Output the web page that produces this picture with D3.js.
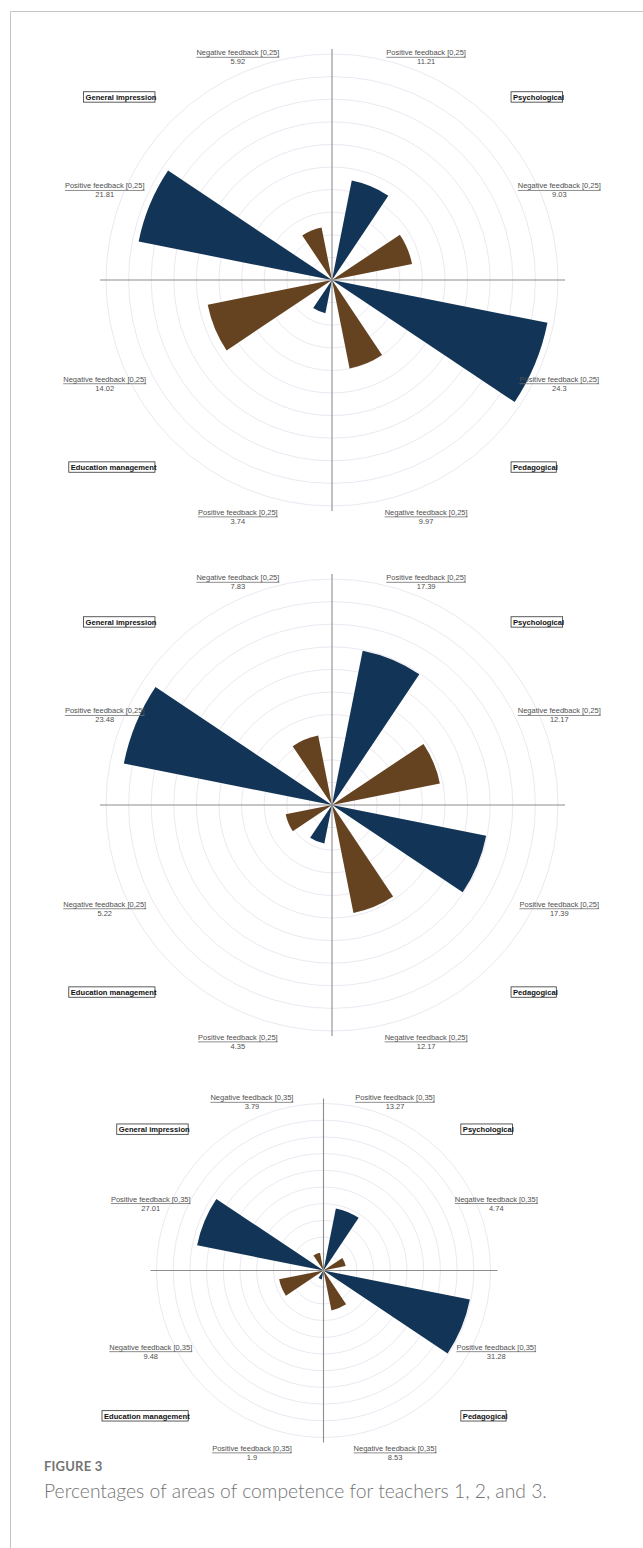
<!DOCTYPE html>
<html>
<head>
<meta charset="utf-8">
<script src="https://cdn.jsdelivr.net/npm/d3@7/dist/d3.min.js"></script>
<style>
  html, body { margin: 0; padding: 0; background: #fff; }
  svg { display: block; }
</style>
</head>
<body>
<svg id="fig" width="643" height="1548"></svg>
<script>
// ---------------- DATA ----------------
const categories = ["Psychological", "Pedagogical", "Education management", "General impression"];
const feedbackTypes = ["Positive feedback", "Negative feedback"];
const teacherScaleMax = [25, 25, 35];
const teacher1Positive = [11.21, 24.3, 3.74, 21.81];
const teacher1Negative = [9.03, 9.97, 14.02, 5.92];
const teacher2Positive = [17.39, 17.39, 4.35, 23.48];
const teacher2Negative = [12.17, 12.17, 5.22, 7.83];
const teacher3Positive = [13.27, 31.28, 1.9, 27.01];
const teacher3Negative = [4.74, 8.53, 9.48, 3.79];
const captionTitle = "FIGURE 3";
const captionText = "Percentages of areas of competence for teachers 1, 2, and 3.";

// ---------------- LAYOUT ----------------
const panels = [
  { pos: teacher1Positive, neg: teacher1Negative, max: teacherScaleMax[0], cx: 332, cy: 280, R: 226 },
  { pos: teacher2Positive, neg: teacher2Negative, max: teacherScaleMax[1], cx: 332, cy: 805, R: 226 },
  { pos: teacher3Positive, neg: teacher3Negative, max: teacherScaleMax[2], cx: 323.5, cy: 1270.5, R: 167 }
];
const colors = { "Positive feedback": "#123456", "Negative feedback": "#654321" };
const labelFont = "'Liberation Sans', Arial, sans-serif";

const svg = d3.select("#fig");

// frame
svg.append("line").attr("x1", 10.5).attr("x2", 643).attr("y1", 11.5).attr("y2", 11.5)
  .attr("stroke", "#c4c4c4").attr("stroke-width", 1);
svg.append("line").attr("x1", 10.5).attr("x2", 10.5).attr("y1", 11.5).attr("y2", 1548)
  .attr("stroke", "#c4c4c4").attr("stroke-width", 1);

const slotAngle = 2 * Math.PI / 8;

panels.forEach(p => {
  const g = svg.append("g").attr("transform", `translate(${p.cx},${p.cy})`);
  const r = d3.scaleLinear().domain([0, p.max]).range([0, p.R]);
  const rings = d3.range(1, 11).map(i => p.max * i / 10);

  g.selectAll("circle.ring").data(rings).join("circle")
    .attr("class", "ring").attr("r", d => r(d))
    .attr("fill", "none").attr("stroke", "#e6e2ee").attr("stroke-width", 0.8);

  const slots = [];
  categories.forEach((c, ci) => {
    slots.push({ cat: c, type: feedbackTypes[0], value: p.pos[ci], slot: ci * 2 });
    slots.push({ cat: c, type: feedbackTypes[1], value: p.neg[ci], slot: ci * 2 + 1 });
  });

  const arc = d3.arc().innerRadius(0)
    .outerRadius(d => r(d.value))
    .startAngle(d => d.slot * slotAngle + slotAngle / 4)
    .endAngle(d => d.slot * slotAngle + slotAngle * 3 / 4);

  g.selectAll("path.wedge").data(slots).join("path")
    .attr("class", "wedge").attr("d", arc)
    .attr("fill", d => colors[d.type]);

  g.append("line").attr("x1", -(p.R + 6)).attr("x2", p.R + 7).attr("y1", 0).attr("y2", 0)
    .attr("stroke", "#8c8c8c").attr("stroke-width", 1.1);
  g.append("line").attr("y1", -(p.R + 5)).attr("y2", p.R + 5).attr("x1", 0).attr("x2", 0)
    .attr("stroke", "#8c8c8c").attr("stroke-width", 1.1);

  const lr = p.R + 20;
  slots.forEach(d => {
    const a = d.slot * slotAngle + slotAngle / 2;
    const x = lr * Math.sin(a);
    let y = -lr * Math.cos(a);
    if (Math.cos(a) < 0) y += 5;
    const t = g.append("text").attr("x", x).attr("y", y + 2.6)
      .attr("text-anchor", "middle").attr("font-family", labelFont)
      .attr("font-size", 7.5).attr("fill", "#505050")
      .text(`${d.type} [0,${p.max}]`);
    const w = t.node().getComputedTextLength();
    g.append("line").attr("x1", x - w / 2).attr("x2", x + w / 2)
      .attr("y1", y + 4.6).attr("y2", y + 4.6)
      .attr("stroke", "#707070").attr("stroke-width", 0.8);
    g.append("text").attr("x", x).attr("y", y + 11.6)
      .attr("text-anchor", "middle").attr("font-family", labelFont)
      .attr("font-size", 7.5).attr("fill", "#505050")
      .text(String(d.value));
  });

  const cd = (p.R + 35) * Math.SQRT1_2;
  categories.forEach((c, ci) => {
    const a = ci * 2 * slotAngle + slotAngle;
    const right = Math.sin(a) > 0;
    const top = Math.cos(a) > 0;
    const yc = top ? -cd + 1.5 : cd + 2.5;
    const t = g.append("text").attr("font-family", labelFont)
      .attr("font-size", 7.6).attr("font-weight", "bold").attr("fill", "#111")
      .attr("y", yc + 2.7).text(c);
    const w = t.node().getComputedTextLength();
    let boxL, boxR;
    if (right) {
      boxL = cd - 5.5;
      t.attr("x", boxL + 2);
      boxR = boxL + 2 + w - 1.5;
    } else {
      boxR = -cd + 7.5;
      t.attr("x", boxR + 1.5 - w);
      boxL = boxR + 1.5 - w - 2;
    }
    g.insert("rect", "text").attr("x", boxL).attr("y", yc - 5.2)
      .attr("width", boxR - boxL).attr("height", 10.4)
      .attr("fill", "#fff").attr("stroke", "#333").attr("stroke-width", 0.8);
  });
});

// caption
svg.append("text").attr("x", 44).attr("y", 1471)
  .attr("font-family", "Lato, 'Open Sans', sans-serif").attr("font-weight", 700)
  .attr("font-size", 13).attr("fill", "#747474").attr("letter-spacing", 0.2)
  .text(captionTitle);
const cap = svg.append("text").attr("x", 44).attr("y", 1498)
  .attr("font-family", "Lato, 'Open Sans', sans-serif").attr("font-weight", 300)
  .attr("font-size", 18).attr("fill", "#747474")
  .text(captionText);
const cw = cap.node().getComputedTextLength();
cap.attr("font-size", 18 * 503 / cw);
</script>
</body>
</html>
